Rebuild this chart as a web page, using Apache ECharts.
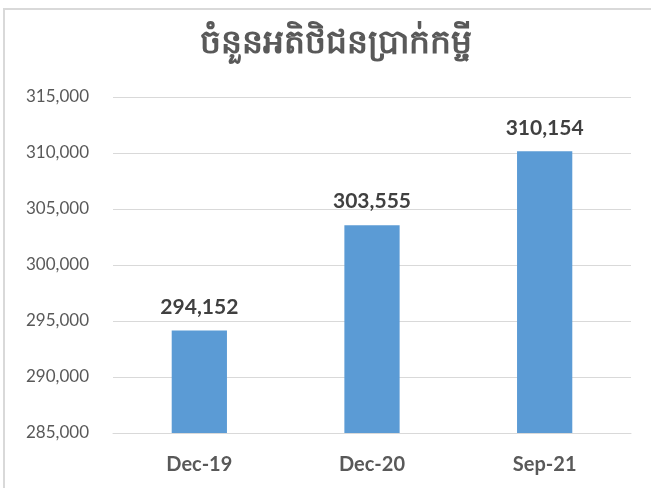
<!DOCTYPE html>
<html>
<head>
<meta charset="utf-8">
<script src="https://cdn.jsdelivr.net/npm/echarts@6/dist/echarts.min.js"></script>
<style>
html,body{margin:0;padding:0;background:#fff;}
#chart{width:651px;height:488px;}
</style>
</head>
<body>
<div id="chart"></div>
<script>
const titleText = 'ចំនួនអតិថិជនប្រាក់កម្ចី';
const categories = ['Dec-19', 'Dec-20', 'Sep-21'];
const values = [294152, 303555, 310154];
const yTicks = [285000, 290000, 295000, 300000, 305000, 310000, 315000];

const fmt = v => v.toString().replace(/\B(?=(\d{3})+(?!\d))/g, ',');
const chart = echarts.init(document.getElementById('chart'), null, {renderer: 'canvas'});
chart.setOption({
  animation: false,
  backgroundColor: '#ffffff',
  title: {
    text: titleText,
    left: 331,
    textAlign: 'center',
    top: 22,
    textStyle: {fontSize: 33, fontWeight: 'bold', color: '#595959', fontFamily: 'Noto Sans, sans-serif'}
  },
  graphic: [
    {type: 'line', shape: {x1: 3, y1: 9, x2: 651, y2: 9}, style: {stroke: '#d9d9d9', lineWidth: 2}},
    {type: 'line', shape: {x1: 4, y1: 8, x2: 4, y2: 488}, style: {stroke: '#d9d9d9', lineWidth: 2}}
  ],
  grid: {left: 113, right: 20, top: 97, bottom: 55, containLabel: false},
  xAxis: {
    type: 'category',
    data: categories,
    axisLine: {show: true, lineStyle: {color: '#d9d9d9', width: 1}},
    axisTick: {show: false},
    axisLabel: {margin: 22, fontSize: 20, fontWeight: 'bold', color: '#595959', fontFamily: 'Lato, sans-serif'}
  },
  yAxis: {
    type: 'value',
    min: yTicks[0],
    max: yTicks[yTicks.length - 1],
    interval: yTicks[1] - yTicks[0],
    axisLine: {show: false},
    axisTick: {show: false},
    splitLine: {lineStyle: {color: '#d9d9d9', width: 1}},
    axisLabel: {margin: 24, fontSize: 17, color: '#595959', fontFamily: 'Lato, sans-serif', formatter: v => fmt(v)}
  },
  series: [{
    type: 'bar',
    data: values,
    barWidth: '32%',
    itemStyle: {color: '#5B9BD5'},
    label: {
      show: true,
      position: 'top',
      distance: 13,
      fontSize: 21,
      fontWeight: 'bold',
      color: '#404040',
      fontFamily: 'Lato, sans-serif',
      formatter: p => fmt(p.value)
    }
  }]
});
</script>
</body>
</html>
